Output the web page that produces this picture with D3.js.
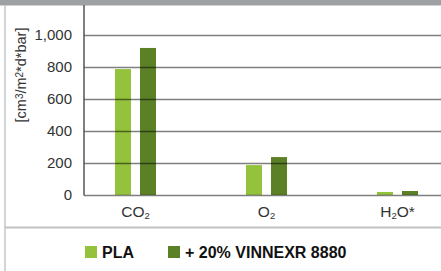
<!DOCTYPE html>
<html>
<head>
<meta charset="utf-8">
<script src="https://cdn.jsdelivr.net/npm/d3@7"></script>
<style>
  body { margin: 0; background: #fff; }
  svg { display: block; font-family: "Liberation Sans", Arial, sans-serif; }
</style>
</head>
<body>
<div id="chart"></div>
<script>
// data
var categories = ['CO2', 'O2', 'H2O*'];
var seriesNames = ['PLA', '+ 20% VINNEXR 8880'];
var plaValues = [787, 187, 19];
var vinnexValues = [919, 237, 25];
var yTicks = [0, 200, 400, 600, 800, 1000];
var colors = ['#94c23c', '#5b8026'];

var width = 441, height = 271;
var svg = d3.select('#chart').append('svg')
    .attr('width', width).attr('height', height);

// frame bits
svg.append('rect').attr('x', 0).attr('y', 0).attr('width', width).attr('height', 5.5)
    .attr('fill', '#9da1a4');
svg.append('line').attr('x1', 5).attr('x2', 5).attr('y1', 5).attr('y2', height)
    .attr('stroke', '#c4c6c8').attr('stroke-width', 1.5);
svg.append('line').attr('x1', 5).attr('x2', width).attr('y1', 227.5).attr('y2', 227.5)
    .attr('stroke', '#c0c2c4').attr('stroke-width', 2);

// scales
var yScale = d3.scaleLinear().domain([0, 1000]).range([195, 35]);
var xScale = d3.scaleBand().domain(categories).range([70, 463]);

var data = categories.map(function(c, i) {
  return { cat: c, vals: [plaValues[i], vinnexValues[i]] };
});

// bars
var groups = svg.append('g').selectAll('g').data(data).enter().append('g');
groups.each(function(d) {
  var c = xScale(d.cat) + xScale.bandwidth() / 2;
  var sub = d3.scaleBand().domain([0, 1]).range([c - 20.5, c + 20.5])
      .paddingInner(0.36).paddingOuter(0);
  d3.select(this).selectAll('rect').data(d.vals).enter().append('rect')
    .attr('x', function(v, i) { return sub(i); })
    .attr('width', sub.bandwidth())
    .attr('y', function(v) { return yScale(v); })
    .attr('height', function(v) { return yScale(0) - yScale(v); })
    .attr('fill', function(v, i) { return colors[i]; });
});

// gridlines over the bars
var yAxis = d3.axisLeft(yScale).tickValues(yTicks)
    .tickSize(-(width - 84)).tickPadding(12)
    .tickFormat(d3.format(','));
var ga = svg.append('g').attr('transform', 'translate(84,0)').call(yAxis);
ga.select('.domain').remove();
ga.selectAll('.tick line').attr('stroke', 'rgba(0,0,0,0.5)').attr('stroke-width', 1.5);
ga.selectAll('.tick text').attr('fill', '#333').style('font-size', '15px');
svg.append('line').attr('x1', 84).attr('x2', 84).attr('y1', 5).attr('y2', 195.5)
    .attr('stroke', '#555').attr('stroke-width', 1.5);

// y label
var yl = svg.append('text')
    .attr('transform', 'translate(26,75) rotate(-90)')
    .attr('text-anchor', 'middle').attr('fill', '#333').style('font-size', '14.5px');
yl.append('tspan').text('[cm');
yl.append('tspan').attr('baseline-shift', '35%').style('font-size', '10px').text('3');
yl.append('tspan').text('/m');
yl.append('tspan').attr('baseline-shift', '35%').style('font-size', '10px').text('2');
yl.append('tspan').text('*d*bar]');

// category labels with subscripts
var catLabels = [['CO', '2', ''], ['O', '2', ''], ['H', '2', 'O*']];
categories.forEach(function(c, i) {
  var t = svg.append('text')
    .attr('x', xScale(c) + xScale.bandwidth() / 2).attr('y', 217)
    .attr('text-anchor', 'middle').attr('fill', '#333').style('font-size', '15.5px');
  var parts = catLabels[i];
  t.append('tspan').text(parts[0]);
  t.append('tspan').attr('baseline-shift', '-20%').style('font-size', '9.5px').text(parts[1]);
  if (parts[2]) t.append('tspan').attr('baseline-shift', '0%').text(parts[2]);
});

// legend
var legendX = [85, 168];
var lg = svg.append('g').selectAll('g').data(seriesNames).enter().append('g')
    .attr('transform', function(d, i) { return 'translate(' + legendX[i] + ',246)'; });
lg.append('rect').attr('width', 12).attr('height', 12)
    .attr('fill', function(d, i) { return colors[i]; });
lg.append('text').attr('x', 17).attr('y', 12)
    .attr('fill', '#111').style('font-size', '16px').style('font-weight', 'bold')
    .text(function(d) { return d; });
</script>
</body>
</html>
